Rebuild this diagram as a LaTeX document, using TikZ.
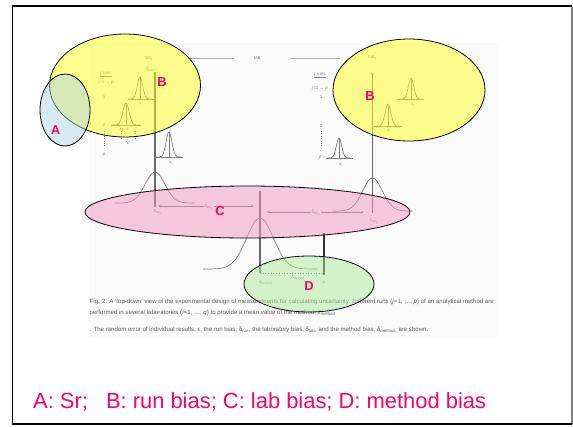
\documentclass[tikz,border=0pt]{standalone}
\usepackage{fontspec}
\setmainfont{Liberation Sans}
\usetikzlibrary{arrows.meta}
\definecolor{mag}{RGB}{255,0,102}
\definecolor{figc}{RGB}{125,125,125}
\definecolor{capc}{RGB}{95,95,95}
\definecolor{yel}{RGB}{255,255,30}
\definecolor{pnk}{RGB}{240,150,190}
\definecolor{grn}{RGB}{175,235,155}
\definecolor{blu}{RGB}{175,215,225}
\newcommand{\bell}[5]{\draw[figline] plot[domain=-#5:#5, samples=41, smooth] ({#1+\x},{#2-#3*exp(-(\x/(#4))*(\x/(#4)))});}
\newcommand{\smallbell}[6]{%
  \bell{#1}{#2}{#3}{#4/3.2}{#4}
  \draw[figline] (#1,#2-#3) -- (#1,#2);
  \draw[figline] (#5,#2) -- (#6,#2);}
\begin{document}
\begin{tikzpicture}[x=1bp,y=-1bp,
  figline/.style={draw=figc, line width=0.7},
  stem/.style={draw=figc!85!black, line width=1.6},
  tiny/.style={font=\fontsize{4.5}{5}\selectfont, text=figc, inner sep=0},
  capline/.style={font=\fontsize{6.1}{6.5}\selectfont, text=capc, anchor=west, inner sep=0},
  lbl/.style={font=\fontsize{13}{13}\selectfont\bfseries, text=mag, inner sep=0},
  bubble/.style={draw=black, line width=0.8, fill opacity=0.5},
  dimarrow/.style={draw=figc, line width=0.6, {Stealth[length=3bp,width=2.5bp]}-{Stealth[length=3bp,width=2.5bp]}}]
\useasboundingbox (0,0) rectangle (573,426);
\fill[white] (0,0) rectangle (573,426);
% frame
\draw[gray, line width=1.5] (572,6) -- (572,424);
\draw[black, line width=2] (572,6) -- (12.5,6) -- (12.5,424) -- (572,424);
% figure background
\fill[black!2] (89,43) rectangle (499,337);
% top lab headings
\node[tiny] (lab1) at (149,58) {lab\textsubscript{1}};
\node[tiny] (labi) at (258,58) {lab\textsubscript{i}};
\node[tiny] (labq) at (372.5,58) {lab\textsubscript{q}};
\draw[figc!60, line width=0.6] (190,58) -- (234,58);
\draw[figc!60, line width=0.6] (290,58) -- (340,58);
\node[tiny] (drun) at (150,69) {δ\textsubscript{run}};
% left lab run labels
\node[tiny] (jr1) at (106,74) {\underline{\textit{j} runs}};
\node[tiny] (jp1) at (106,82) {\textit{j}=1 → \textit{p}};
\node[tiny] (one1) at (104,97) {1};
\node[tiny] (two1) at (104,125) {2};
\draw[figc, dotted] (104,131) -- (104,146);
\node[tiny] (p1) at (104,155) {\textit{p}};
% right lab run labels
\node[tiny] (jr2) at (320,75) {\underline{\textit{j} runs}};
\node[tiny] (jp2) at (320,88) {\textit{j}=1 → \textit{p}};
\node[tiny] (one2) at (321,97) {1};
\node[tiny] (two2) at (321,126) {2};
\draw[figc, dotted] (321,131) -- (321,146);
\node[tiny] (p2) at (320,158) {\textit{p}};
% stems
\draw[stem] (155,72) -- (155,207);
\draw[stem] (372.5,73) -- (372.5,213);
\draw[stem] (260,191) -- (260,273);
\draw[draw=black!80, line width=1.8] (324,233) -- (324,275);
% small bells
\smallbell{140}{99}{22}{12}{128}{155}
\smallbell{126}{125}{22}{14}{111}{141}
\smallbell{169}{157}{25}{13}{155}{183}
\smallbell{411}{99}{21}{12}{397}{424}
\smallbell{388}{126}{22}{13}{372}{402}
\smallbell{339}{158}{20}{12}{326}{353}
\node[tiny] (x1a) at (141,104) {\textit{x}\textsubscript{i}};
\node[tiny] (x1b) at (124,130) {\textit{x}\textsubscript{ij} \ \textit{x}};
\node[tiny] (eps1) at (128,143) {‘ε’};
\draw[figc, dotted] (121,131) -- (121,140);
\draw[figc, dotted] (135,131) -- (135,140);
\node[tiny] (x1c) at (171,163) {\textit{x}\textsubscript{i}};
\node[tiny] (x2a) at (413,105) {\textit{x}\textsubscript{i}};
\node[tiny] (x2b) at (389,131) {\textit{x}\textsubscript{i}};
\node[tiny] (x2c) at (341,165) {\textit{x}\textsubscript{i}};
% big bells
\bell{155}{203}{31}{14}{40}
\bell{372.5}{211}{33}{14}{40}
\bell{260}{269}{51}{19}{57}
% lab bias arrows
\coordinate (l1a) at (158,206);
\coordinate (l1b) at (254,206);
\coordinate (lqa) at (267,212);
\coordinate (lqb) at (364,212);
\draw[dimarrow] (l1a) -- (l1b);
\draw[dimarrow] (lqa) -- (lqb);
\node[tiny, fill=black!2, inner sep=1] (dl1) at (209,207) {δ\textsubscript{lab\textsubscript{1}}};
\node[tiny, fill=black!2, inner sep=1] (dlq) at (316,213) {δ\textsubscript{lab\textsubscript{q}}};
\node[tiny] (xl1) at (158,212) {\={x}\textsubscript{lab\textsubscript{1}}};
\node[tiny] (xlq) at (374,221) {\={x}\textsubscript{lab\textsubscript{q}}};
% method bias
\coordinate (ma) at (260,273);
\coordinate (mb) at (323,273);
\draw[figc, dotted, line width=0.7] (ma) -- (mb);
\node[tiny] (dm) at (298,277) {δ\textsubscript{method}};
\node[tiny] (xm) at (266,283) {\={x}\textsubscript{method}};
\node[tiny] (mu) at (324,283) {μ};
% caption
\node[capline] (cap1) at (89.5,302) {Fig. 2. A ‘top-down’ view of the experimental design of measurements for calculating uncertainty. Different runs (\textit{j}=1, …, \textit{p}) of an analytical method are};
\node[capline] (cap2) at (89.5,313) {performed in several laboratories (\textit{i}=1, …, \textit{q}) to provide a mean value of the method, \={x}\textsubscript{method}};
\node[capline] (cap3) at (89.5,330) {. The random error of individual results, ε, the run bias, δ\textsubscript{run}, the laboratory bias, δ\textsubscript{lab}, and the method bias, δ\textsubscript{method}, are shown.};
% highlight ellipses
\draw[bubble, fill=yel] (125,85.5) ellipse [x radius=75.5bp, y radius=51.5bp];
\draw[bubble, fill=yel] (409,90) ellipse [x radius=76bp, y radius=51bp];
\draw[bubble, fill=blu] (65,110) ellipse [x radius=25bp, y radius=36bp];
\draw[bubble, fill=pnk] (247.5,212) ellipse [x radius=162.5bp, y radius=26bp];
\draw[bubble, fill=grn] (309,284) ellipse [x radius=65bp, y radius=28bp];
% letters
\node[lbl] (A) at (55.5,130) {A};
\node[lbl] (B1) at (162,82) {B};
\node[lbl] (B2) at (370,96) {B};
\node[lbl] (C) at (220,211) {C};
\node[lbl] (D) at (309,286) {D};
% legend
\node[font=\fontsize{22}{22}\selectfont, text=mag, anchor=base west, inner sep=0] (legend) at (33,408) {A: Sr;\hspace{18bp}B: run bias; C: lab bias; D: method bias};
\end{tikzpicture}
\end{document}
